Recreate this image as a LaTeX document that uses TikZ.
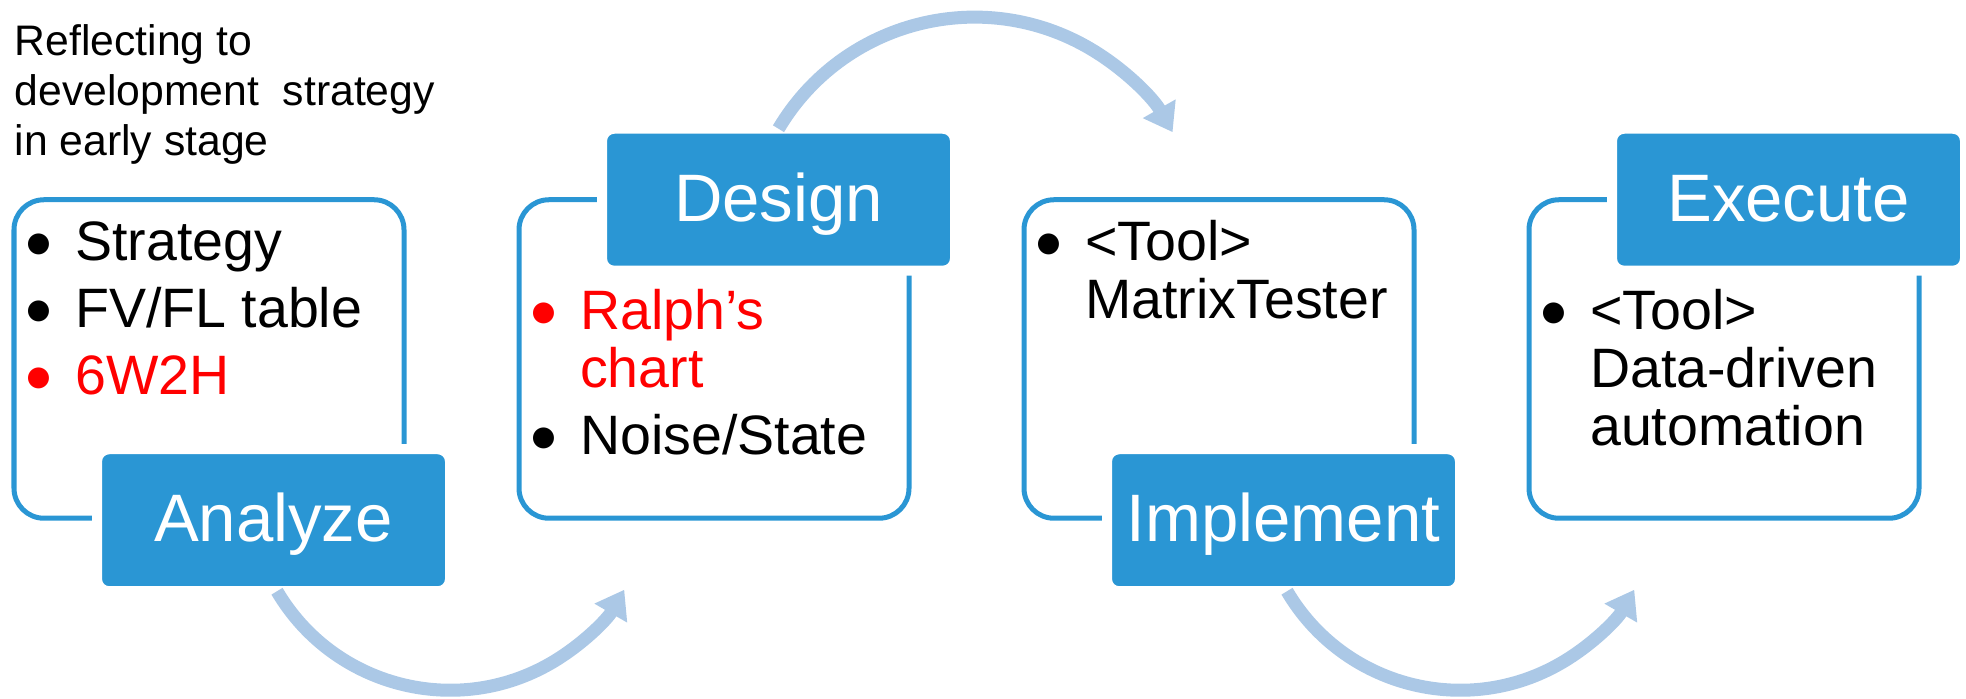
\documentclass[tikz,border=0pt]{standalone}
\usepackage{fontspec}
\setmainfont{Liberation Sans}
\newfontfamily\symbolfont{DejaVu Sans}
\usepackage{xcolor}
\usepackage{tikz}
\usetikzlibrary{positioning,calc,arrows.meta}

\definecolor{stageblue}{RGB}{42,150,212}
\definecolor{flowblue}{RGB}{171,200,230}

% big bullet as in the slide
\newcommand{\dotmark}{\hspace{0.03cm}\raisebox{0.087cm}{\symbolfont\fontsize{7.8pt}{8pt}\selectfont ●}}

\tikzset{
    stagebox/.style={draw=stageblue, line width=0.05cm, rounded corners=0.3cm, minimum width=3.9cm, minimum height=3.185cm, inner sep=0, outer sep=0},
    tab/.style={fill=stageblue, draw=white, line width=0.1cm, rounded corners=0.12cm, minimum width=3.53cm, minimum height=1.42cm, inner sep=0, outer sep=0, text height=0.57cm, text depth=0.14cm, text=white, font=\fontsize{19.1pt}{22pt}\selectfont},
    items/.style={anchor=base west, inner sep=0, font=\fontsize{15.8pt}{16.5pt}\selectfont},
    flow/.style={draw=flowblue, line width=0.13cm, -{Triangle[length=0.27cm, width=0.36cm]}}
}

\begin{document}
\begin{tikzpicture}
    \useasboundingbox (0,0) rectangle (19.66,6.99);

    % Note
    \node[anchor=base west, inner sep=0, font=\fontsize{12.15pt}{14.2pt}\selectfont] (note) at (0.14,6.43)
        {\begin{tabular}[t]{@{}l@{}}Reflecting to\\development\ \ strategy\\in early stage\end{tabular}};

    % Stage boxes
    \node[stagebox] (stage1) at (2.09,3.40) {};
    \node[stagebox, right=1.15cm of stage1] (stage2) {};
    \node[stagebox, right=1.15cm of stage2] (stage3) {};
    \node[stagebox, right=1.15cm of stage3] (stage4) {};

    % Tabs
    \node[tab] (analyze) at ([shift={(0.645,-0.02)}]stage1.south) {Analyze};
    \node[tab] (design) at ([xshift=0.645cm]stage2.north) {Design};
    \node[tab] (implement) at ([shift={(0.645,-0.02)}]stage3.south) {Implement};
    \node[tab] (execute) at ([xshift=0.645cm]stage4.north) {Execute};

    % Items
    \node[items] (list1) at ($(stage1.north west)+(0.09,-0.605)$)
        {\begin{tabular}[t]{@{}p{0.515cm}@{}l@{}}\dotmark & Strategy\\[0.09cm] \dotmark & FV/FL table\\[0.09cm] \textcolor{red}{\dotmark} & \textcolor{red}{6W2H}\end{tabular}};
    \node[items] (list2) at ($(stage2.north west)+(0.09,-1.295)$)
        {\begin{tabular}[t]{@{}p{0.515cm}@{}l@{}}\textcolor{red}{\dotmark} & \textcolor{red}{Ralph’s}\\ & \textcolor{red}{chart}\\[0.09cm] \dotmark & Noise/State\end{tabular}};
    \node[items] (list3) at ($(stage3.north west)+(0.09,-0.605)$)
        {\begin{tabular}[t]{@{}p{0.515cm}@{}l@{}}\dotmark & <Tool>\\ & MatrixTester\end{tabular}};
    \node[items] (list4) at ($(stage4.north west)+(0.09,-1.295)$)
        {\begin{tabular}[t]{@{}p{0.515cm}@{}l@{}}\dotmark & <Tool>\\ & Data-driven\\ & automation\end{tabular}};

    % Flow arrows
    \draw[flow] ([xshift=0.035cm]analyze.south) arc[start angle=210.5, end angle=330, radius=2.01cm];
    \draw[flow] (design.north) arc[start angle=149.3, end angle=29.7, radius=2.28cm];
    \draw[flow] ([xshift=0.035cm]implement.south) arc[start angle=210.5, end angle=330, radius=2.01cm];
\end{tikzpicture}
\end{document}
